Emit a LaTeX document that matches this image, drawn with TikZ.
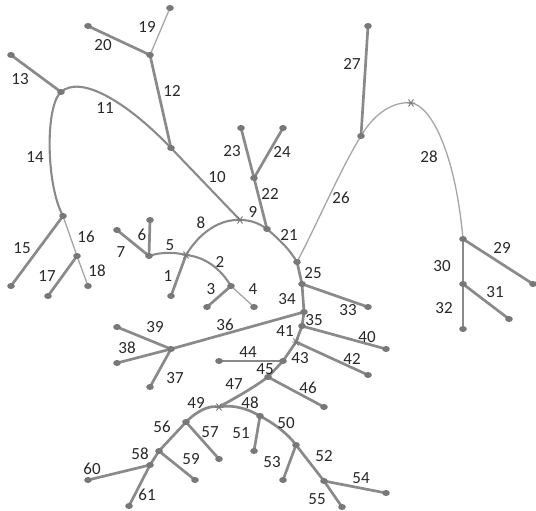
\documentclass[tikz,border=0pt]{standalone}
\usepackage{fontspec}
\setmainfont{Carlito}
\usetikzlibrary{calc}
\begin{document}
\begin{tikzpicture}[x=1pt,y=-1pt,
  thick edge/.style={draw=edgegray,line width=2.7pt},
  mid edge/.style={draw=edgegray,line width=2.1pt},
  thin edge/.style={draw=thingray,line width=1.3pt},
  lbl/.style={font=\fontsize{17}{19}\selectfont,text=labeltext,inner sep=0pt},
]
\definecolor{edgegray}{RGB}{138,138,138}
\definecolor{thingray}{RGB}{165,165,165}
\definecolor{dotgray}{RGB}{120,120,120}
\definecolor{labeltext}{RGB}{40,40,40}
\useasboundingbox (0,0) rectangle (536,511);
% coordinates
\coordinate (e19) at (170,8);   \coordinate (e20) at (88,26);
\coordinate (j12) at (150,55);  \coordinate (e13) at (11,55);
\coordinate (j11) at (61,92);   \coordinate (j10) at (171,148);
\coordinate (s9) at (240,220);  \coordinate (e23) at (241,128);
\coordinate (e24) at (283,128); \coordinate (j22) at (254,178);
\coordinate (j21) at (267,229); \coordinate (j26) at (297,262);
\coordinate (j33) at (302,284); \coordinate (e33) at (368,307);
\coordinate (j36) at (304,312); \coordinate (j40) at (302,326);
\coordinate (e40) at (386,349); \coordinate (s41) at (296,342);
\coordinate (e42) at (368,375); \coordinate (j44) at (283,361);
\coordinate (e44) at (219,361); \coordinate (j46) at (268,377);
\coordinate (e46) at (324,407); \coordinate (s49) at (219,407);
\coordinate (j51) at (260,416); \coordinate (e51) at (254,451);
\coordinate (j53) at (296,445); \coordinate (e53) at (283,480);
\coordinate (j54) at (324,481); \coordinate (e54) at (386,493);
\coordinate (e55) at (342,507); \coordinate (j57) at (186,422);
\coordinate (e57) at (219,459); \coordinate (j59) at (159,451);
\coordinate (e59) at (195,480); \coordinate (j60) at (150,465);
\coordinate (e60) at (88,480);  \coordinate (e61) at (129,506);
\coordinate (j37) at (171,349); \coordinate (e39) at (117,327);
\coordinate (e38) at (117,363); \coordinate (e37) at (150,387);
\coordinate (j3) at (231,286);  \coordinate (e3) at (207,307);
\coordinate (e4) at (254,307);  \coordinate (s1) at (186,255);
\coordinate (e1) at (171,296);  \coordinate (j6) at (149,256);
\coordinate (e6) at (150,220);  \coordinate (e7) at (117,230);
\coordinate (j15) at (63,216);  \coordinate (e15) at (11,286);
\coordinate (j17) at (77,256);  \coordinate (e17) at (48,296);
\coordinate (e18) at (88,286);  \coordinate (e27) at (368,26);
\coordinate (j27) at (361,136); \coordinate (s28) at (411,103);
\coordinate (j29) at (463,239); \coordinate (e29) at (533,284);
\coordinate (j31) at (463,284); \coordinate (e31) at (509,319);
\coordinate (e32) at (463,329);
% thin edges
\draw[thin edge] (j12) -- (e19);
\draw[thin edge] (j15) -- (j17);
\draw[thin edge] (j17) -- (e18);
\draw[thin edge] (j3) -- (e4);
\draw[thin edge] (j26) .. controls (318,222) and (340,170) .. (j27);
\draw[thin edge] (j27) .. controls (375,112) and (395,101) .. (s28);
\draw[thin edge] (s28) .. controls (430,105) and (455,150) .. (j29);
% medium edges
\draw[mid edge] (j11) .. controls (80,75) and (125,100) .. (j10);
\draw[mid edge] (j11) .. controls (45,106) and (46,185) .. (j15);
\draw[mid edge] (j10) -- (s9);
\draw[mid edge] (s1) .. controls (200,232) and (220,219) .. (s9);
\draw[mid edge] (s9) .. controls (252,220) and (260,224) .. (j21);
\draw[mid edge] (j21) .. controls (280,240) and (290,250) .. (j26);
\draw[mid edge] (s1) .. controls (205,257) and (220,268) .. (j3);
\draw[mid edge] (j6) .. controls (160,252) and (175,252) .. (s1);
% thick edges
\draw[thick edge] (j12) -- (e20);
\draw[thick edge] (j12) -- (j10);
\draw[thick edge] (j11) -- (e13);
\draw[thick edge] (j15) -- (e15);
\draw[thick edge] (j17) -- (e17);
\draw[thick edge] (j22) -- (e23);
\draw[thick edge] (j22) -- (e24);
\draw[thick edge] (j22) -- (j21);
\draw[thick edge] (j27) -- (e27);
\draw[thick edge] (j29) -- (e29);
\draw[thick edge] (j29) -- (j31);
\draw[thick edge] (j31) -- (e31);
\draw[thick edge] (j31) -- (e32);
\draw[thick edge] (j6) -- (e6);
\draw[thick edge] (j6) -- (e7);
\draw[thick edge] (s1) -- (e1);
\draw[thick edge] (j3) -- (e3);
\draw[thick edge] (j26) -- (j33);
\draw[thick edge] (j33) -- (e33);
\draw[thick edge] (j33) -- (j36);
\draw[thick edge] (j36) -- (j40);
\draw[thick edge] (j36) -- (j37);
\draw[thick edge] (j37) -- (e39);
\draw[thick edge] (j37) -- (e38);
\draw[thick edge] (j37) -- (e37);
\draw[thick edge] (j40) -- (e40);
\draw[thick edge] (j40) -- (s41);
\draw[thick edge] (s41) -- (e42);
\draw[thick edge] (s41) -- (j44);
\draw[thick edge] (j44) -- (e44);
\draw[thick edge] (j44) -- (j46);
\draw[thick edge] (j46) -- (e46);
\draw[thick edge] (j46) .. controls (250,390) and (235,398) .. (s49);
\draw[thick edge] (j57) .. controls (198,410) and (210,405) .. (s49);
\draw[thick edge] (s49) .. controls (235,404) and (250,410) .. (j51);
\draw[thick edge] (j51) .. controls (275,424) and (288,434) .. (j53);
\draw[thick edge] (j53) -- (j54);
\draw[thick edge] (j54) -- (e55);
\draw[thick edge] (j51) -- (e51);
\draw[thick edge] (j53) -- (e53);
\draw[thick edge] (j54) -- (e54);
\draw[thick edge] (j57) -- (e57);
\draw[thick edge] (j57) -- (j59);
\draw[thick edge] (j59) -- (e59);
\draw[thick edge] (j59) -- (j60);
\draw[thick edge] (j60) -- (e60);
\draw[thick edge] (j60) -- (e61);
% dots
\foreach \p in {e19,e20,j12,e13,j11,j10,e23,e24,j22,j21,j26,j33,e33,j36,j40,e40,e42,j44,e44,j46,e46,j51,e51,j53,e53,j54,e54,e55,j57,e57,j59,e59,j60,e60,e61,j37,e39,e38,e37,j3,e3,e4,e1,j6,e6,e7,j15,e15,j17,e17,e18,e27,j27,j29,e29,j31,e31,e32}
  \fill[dotgray] (\p) ellipse [x radius=3.8pt, y radius=3pt];
% star markers
\foreach \p in {s9,s1,s41,s49,s28}
  \draw[dotgray,line width=0.9pt] ($(\p)+(-4,0)$) -- ($(\p)+(4,0)$)
    ($(\p)+(-2.5,-3.5)$) -- ($(\p)+(2.5,3.5)$)
    ($(\p)+(-2.5,3.5)$) -- ($(\p)+(2.5,-3.5)$);
% labels
\node[lbl] (l1) at (168,276) {1};
\node[lbl] (l2) at (220,262) {2};
\node[lbl] (l3) at (211,289) {3};
\node[lbl] (l4) at (253,289) {4};
\node[lbl] (l5) at (170,245) {5};
\node[lbl] (l6) at (142,235) {6};
\node[lbl] (l7) at (121,252) {7};
\node[lbl] (l8) at (201,223) {8};
\node[lbl] (l9) at (253,212) {9};
\node[lbl] (l10) at (217,177) {10};
\node[lbl] (l11) at (105,108) {11};
\node[lbl] (l12) at (172,91) {12};
\node[lbl] (l13) at (20,79) {13};
\node[lbl] (l14) at (35,157) {14};
\node[lbl] (l15) at (22,248) {15};
\node[lbl] (l16) at (86,237) {16};
\node[lbl] (l17) at (47,276) {17};
\node[lbl] (l18) at (97,271) {18};
\node[lbl] (l19) at (147,27) {19};
\node[lbl] (l20) at (103,45) {20};
\node[lbl] (l21) at (289,235) {21};
\node[lbl] (l22) at (270,194) {22};
\node[lbl] (l23) at (232,151) {23};
\node[lbl] (l24) at (282,152) {24};
\node[lbl] (l25) at (313,273) {25};
\node[lbl] (l26) at (341,198) {26};
\node[lbl] (l27) at (352,64) {27};
\node[lbl] (l28) at (429,157) {28};
\node[lbl] (l29) at (502,248) {29};
\node[lbl] (l30) at (442,266) {30};
\node[lbl] (l31) at (495,292) {31};
\node[lbl] (l32) at (444,308) {32};
\node[lbl] (l33) at (348,310) {33};
\node[lbl] (l34) at (287,299) {34};
\node[lbl] (l35) at (314,320) {35};
\node[lbl] (l36) at (225,325) {36};
\node[lbl] (l37) at (175,378) {37};
\node[lbl] (l38) at (127,348) {38};
\node[lbl] (l39) at (155,327) {39};
\node[lbl] (l40) at (367,337) {40};
\node[lbl] (l41) at (285,331) {41};
\node[lbl] (l42) at (352,359) {42};
\node[lbl] (l43) at (300,358) {43};
\node[lbl] (l44) at (248,352) {44};
\node[lbl] (l45) at (265,369) {45};
\node[lbl] (l46) at (308,388) {46};
\node[lbl] (l47) at (234,384) {47};
\node[lbl] (l48) at (250,403) {48};
\node[lbl] (l49) at (196,403) {49};
\node[lbl] (l50) at (286,423) {50};
\node[lbl] (l51) at (241,433) {51};
\node[lbl] (l52) at (324,456) {52};
\node[lbl] (l53) at (272,462) {53};
\node[lbl] (l54) at (361,478) {54};
\node[lbl] (l55) at (317,499) {55};
\node[lbl] (l56) at (162,427) {56};
\node[lbl] (l57) at (210,432) {57};
\node[lbl] (l58) at (140,454) {58};
\node[lbl] (l59) at (191,459) {59};
\node[lbl] (l60) at (92,469) {60};
\node[lbl] (l61) at (147,495) {61};
\end{tikzpicture}
\end{document}
